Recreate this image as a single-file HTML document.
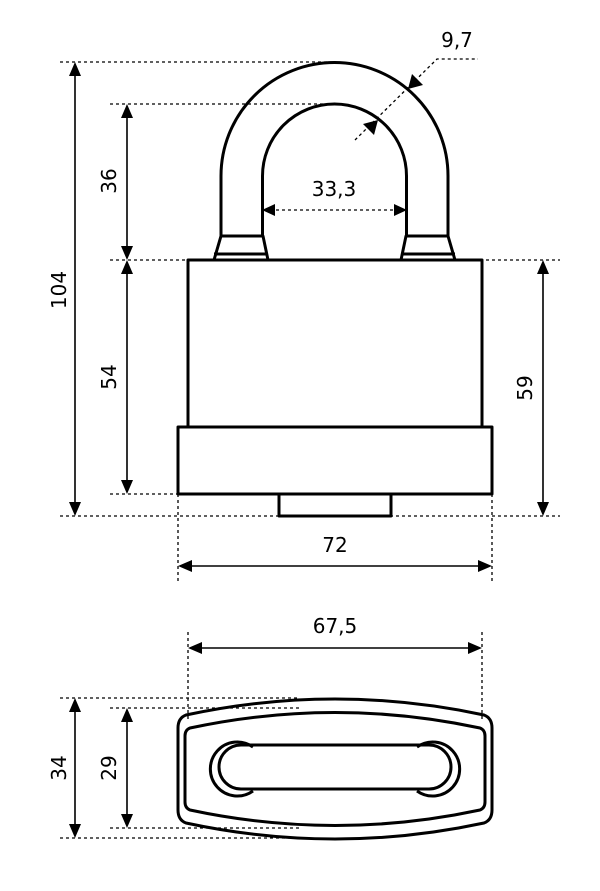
<!DOCTYPE html>
<html><head><style>html,body{margin:0;padding:0;background:#fff}svg{display:block}text{font-family:"DejaVu Sans","Liberation Sans",sans-serif;font-size:20px;fill:#000}</style></head>
<body>
<svg width="600" height="891" viewBox="0 0 600 891" xmlns="http://www.w3.org/2000/svg">
<g stroke="#000" stroke-width="1.3" stroke-dasharray="3,3" fill="none">
<path d="M60 62H335M110 104H330M110 260H190M480 260H560M110 494H180M60 516H280M390 516H560M178 494V582M492 494V582"/>
<path d="M188 632V720M482 632V720M60 698H300M110 708H300M110 828H300M60 838H300"/>
<path d="M355 140L437 59H478"/>
<path d="M270 210H399"/>
</g>
<g stroke="#000" stroke-width="1.6" fill="none">
<path d="M75 70V508M127 112V252M127 268V486M543 268V508M186 566H484M196 648H474M75 706V830M127 716V820"/>
</g>
<g fill="#000">
<path d="M75 62l-6 14h12zM75 516l-6 -14h12z"/>
<path d="M127 104l-6 14h12zM127 260l-6 -14h12z"/>
<path d="M127 260l-6 14h12zM127 494l-6 -14h12z"/>
<path d="M543 260l-6 14h12zM543 516l-6 -14h12z"/>
<path d="M75 698l-6 14h12zM75 838l-6 -14h12z"/>
<path d="M127 708l-6 14h12zM127 828l-6 -14h12z"/>
<path d="M178 566l14 -6v12zM492 566l-14 -6v12z"/>
<path d="M188 648l14 -6v12zM482 648l-14 -6v12z"/>
<path d="M262 210l13 -6v12zM407 210l-13 -6v12z"/>
<path d="M408 89l4 -15 11 11z M378 120l-4 15 -11 -11z"/>
</g>
<g stroke="#000" stroke-width="3" fill="none" stroke-linejoin="round">
<path d="M221 236V176A113.5 113.5 0 0 1 448 176V236"/>
<path d="M262.5 236V176A72 72 0 0 1 406.5 176V236"/>
<path d="M221 236H263L268 260H214Z M214 254H268"/>
<path d="M406 236H448L455 260H401Z M401 254H455"/>
<rect x="188" y="260" width="294" height="167"/>
<rect x="178" y="427" width="314" height="67"/>
<rect x="279" y="494" width="112" height="22"/>
<path d="M186 715Q335 683 484 715Q492 718 492 728V810Q492 820 484 823Q335 855 186 823Q178 820 178 810V728Q178 718 186 715Z"/>
<path d="M190 728Q335 697 480 728Q485 730 485 736V802Q485 808 480 810Q335 841 190 810Q185 808 185 802V736Q185 730 190 728Z"/>
<path d="M253 747A27 27 0 1 0 253 791M417 747A27 27 0 1 1 417 791"/>
<path d="M241 745H429A22 22 0 0 1 429 789H241A22 22 0 0 1 241 745Z"/>
</g>
<text x="334" y="196" text-anchor="middle">33,3</text>
<text x="457" y="47" text-anchor="middle">9,7</text>
<text x="335" y="552" text-anchor="middle">72</text>
<text x="335" y="633" text-anchor="middle">67,5</text>
<text transform="translate(66 290) rotate(-90)" text-anchor="middle">104</text>
<text transform="translate(116 181) rotate(-90)" text-anchor="middle">36</text>
<text transform="translate(116 377) rotate(-90)" text-anchor="middle">54</text>
<text transform="translate(532 388) rotate(-90)" text-anchor="middle">59</text>
<text transform="translate(66 768) rotate(-90)" text-anchor="middle">34</text>
<text transform="translate(116 768) rotate(-90)" text-anchor="middle">29</text>
</svg>
</body></html>
